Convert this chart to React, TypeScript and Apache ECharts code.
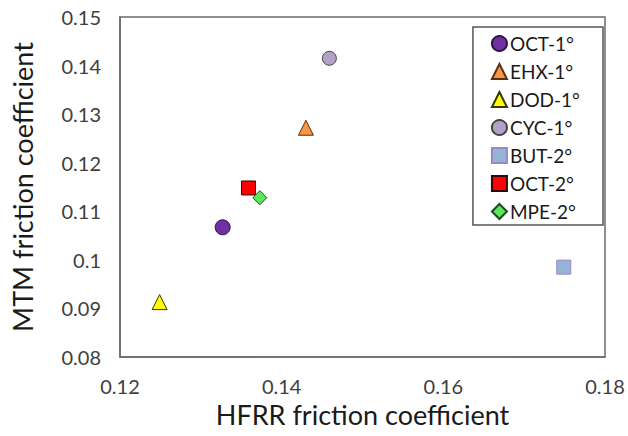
import React, { useEffect, useRef } from "react";
import * as echarts from "echarts";

const seriesNames = ["OCT-1°", "EHX-1°", "DOD-1°", "CYC-1°", "BUT-2°", "OCT-2°", "MPE-2°"];
const hfrrValues = [0.1327, 0.143, 0.1249, 0.1459, 0.1749, 0.1359, 0.1373];
const mtmValues = [0.1067, 0.1272, 0.0913, 0.1415, 0.0985, 0.1148, 0.1128];
const xTicks = { min: 0.12, max: 0.18, interval: 0.02 };
const yTicks = { min: 0.08, max: 0.15, interval: 0.01 };

const symbols = ["circle", "triangle", "triangle", "circle", "rect", "rect", "diamond"];
const sizes = [15, 15, 15, 14, 14, 14, 14];
const fills = ["#7030A0", "#F79646", "#FFFF00", "#B3A2C7", "#95B3D7", "#FF0000", "#5CE65C"];
const borders = ["#2e1248", "#5a3010", "#3a3a00", "#444444", "#9c88c2", "#300808", "#1f4a1f"];

export default function App() {
  const ref = useRef<HTMLDivElement>(null);
  useEffect(() => {
    if (!ref.current) return;
    const chart = echarts.init(ref.current, undefined, { renderer: "svg" });
    const font = "Lato, 'Open Sans', sans-serif";
    chart.setOption({
      animation: false,
      textStyle: { fontFamily: font },
      grid: {
        left: 120,
        right: 23,
        top: 17,
        bottom: 79,
        show: true,
        borderColor: "#6b6b6b",
        borderWidth: 1.5,
        backgroundColor: "transparent",
      },
      legend: {
        orient: "vertical",
        right: 25,
        top: 27,
        padding: [7, 23, 4, 18],
        itemGap: 9,
        itemWidth: 15,
        itemHeight: 15,
        borderColor: "#555",
        borderWidth: 1.5,
        backgroundColor: "#fff",
        textStyle: { fontSize: 19, color: "#1a1a1a", fontFamily: font, padding: [0, 0, 0, -2] },
        data: seriesNames,
      },
      xAxis: {
        type: "value",
        min: xTicks.min,
        max: xTicks.max,
        interval: xTicks.interval,
        name: "HFRR friction coefficient",
        nameLocation: "middle",
        nameGap: 44,
        nameTextStyle: { fontSize: 27, color: "#1a1a1a", fontFamily: font },
        axisLine: { show: true, lineStyle: { color: "#6b6b6b", width: 1.5 } },
        axisTick: { show: false },
        splitLine: { show: false },
        axisLabel: { fontSize: 20, color: "#404040", margin: 19, fontFamily: font },
      },
      yAxis: {
        type: "value",
        min: yTicks.min,
        max: yTicks.max,
        interval: yTicks.interval,
        name: "MTM friction coefficient",
        nameLocation: "middle",
        nameGap: 84,
        nameTextStyle: { fontSize: 27, color: "#1a1a1a", fontFamily: font },
        axisLine: { show: true, lineStyle: { color: "#6b6b6b", width: 1.5 } },
        axisTick: { show: false },
        splitLine: { show: false },
        axisLabel: { fontSize: 20, color: "#404040", margin: 19, fontFamily: font },
      },
      series: seriesNames.map((name, i) => ({
        name,
        type: "scatter",
        symbol: symbols[i],
        symbolSize: sizes[i],
        itemStyle: { color: fills[i], borderColor: borders[i], borderWidth: 1, opacity: 1 },
        data: [[hfrrValues[i], mtmValues[i]]],
      })),
    });
    return () => chart.dispose();
  }, []);
  return <div ref={ref} style={{ width: 628, height: 436, position: "absolute", left: 0, top: 0 }} />;
}
